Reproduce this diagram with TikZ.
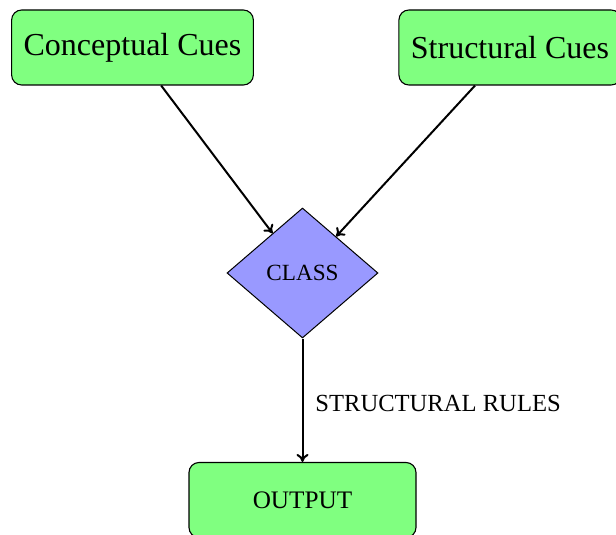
\documentclass[tikz,border=0pt]{standalone}
\usepackage{fontspec}
\setmainfont{Liberation Serif}
\usetikzlibrary{shapes.geometric,arrows.meta}
\tikzset{
  cue/.style={draw, rounded corners=5pt, fill=green!50, line width=0.55pt,
    minimum height=37.5pt, inner xsep=6pt, inner ysep=0pt,
    font=\fontsize{16}{19}\selectfont},
  decision/.style={draw, diamond, fill=blue!40, line width=0.5pt, inner sep=0pt,
    minimum width=75.5pt, minimum height=65pt, font=\fontsize{11.6}{14}\selectfont},
  result/.style={draw, rounded corners=5pt, fill=green!50, line width=0.55pt,
    minimum width=113.5pt, minimum height=37.5pt, inner sep=0pt,
    font=\fontsize{12.6}{15}\selectfont},
  flow/.style={-{To[length=4pt,width=6pt]}, line width=1pt},
  rulelabel/.style={anchor=west, inner sep=0pt, font=\fontsize{12.3}{15}\selectfont}
}
\begin{document}
\begin{tikzpicture}[x=0.5pt, y=-0.5pt]
\useasboundingbox (0,0) rectangle (616,535);
\node[cue] (concept) at (132.5,47.5) {Conceptual Cues};
\node[cue] (struct) at (510,47.5) {Structural Cues};
\node[decision] (class) at (302.5,273) {CLASS};
\node[result] (output) at (302.5,500) {OUTPUT};
\node[rulelabel] (rules) at (315,403) {STRUCTURAL RULES};
\draw[flow] (concept) -- (class);
\draw[flow] (struct) -- (class);
\draw[flow] (class) -- (output);
\end{tikzpicture}
\end{document}
